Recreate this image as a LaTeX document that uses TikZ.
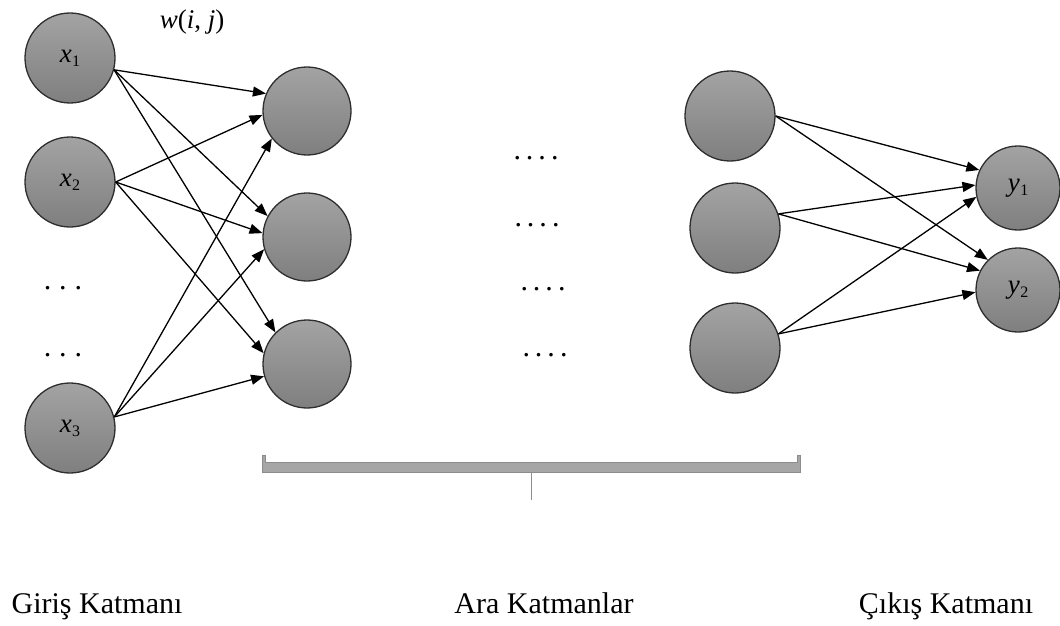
\documentclass[tikz,border=0pt]{standalone}
\usepackage{fontspec}
\setmainfont{Liberation Serif}
\usetikzlibrary{arrows.meta}
\definecolor{ctop}{HTML}{A3A3A3}
\definecolor{cbot}{HTML}{7F7F7F}
\definecolor{cedge}{HTML}{2E2E2E}
\definecolor{cbr}{HTML}{A6A6A6}
\definecolor{cbrd}{HTML}{8C8C8C}
\newcommand{\vname}[2]{\textit{#1}\kern0.5pt{\fontsize{16}{16}\selectfont\raisebox{-4pt}{#2}}}
\newcommand{\dotrow}[2]{.\foreach \k in {2,...,#1}{\kern#2.}}
\begin{document}
\begin{tikzpicture}[x=1pt,y=-1pt,
 neuron/.style={circle,draw=cedge,line width=1.3pt,top color=ctop,bottom color=cbot,minimum size=#1,inner sep=0pt,font=\fontsize{27}{30}\selectfont},
 neuron/.default=90pt,
 conn/.style={-{Triangle[length=13pt,width=10pt]},line width=1.3pt},
 lbl/.style={font=\fontsize{30}{36}\selectfont,anchor=base},
 dotsty/.style={font=\fontsize{30}{34}\selectfont,anchor=base}
]
\useasboundingbox (0,0) rectangle (1060,626);
% input layer
\node[neuron] (x1) at (70,58) {\vname{x}{1}};
\node[neuron] (x2) at (70,182) {\vname{x}{2}};
\node[neuron] (x3) at (70,428) {\vname{x}{3}};
% first hidden layer
\node[neuron=88pt] (h1) at (307,111) {};
\node[neuron=88pt] (h2) at (307,237) {};
\node[neuron=88pt] (h3) at (307,364) {};
% last hidden layer
\node[neuron] (a1) at (730,116) {};
\node[neuron] (a2) at (735,228) {};
\node[neuron] (a3) at (735,348) {};
% output layer
\node[neuron=84pt] (y1) at (1018,188) {\vname{y}{1}};
\node[neuron=84pt] (y2) at (1018,290) {\vname{y}{2}};
% connections input -> hidden
\draw[conn] (x1.-15) -- (h1.157);
\draw[conn] (x1.-15) -- (h2.152);
\draw[conn] (x1.-15) -- (h3.135);
\draw[conn] (x2.0) -- (h1.185);
\draw[conn] (x2.0) -- (h2.175);
\draw[conn] (x2.0) -- (h3.166);
\draw[conn] (x3.14) -- (h1.218);
\draw[conn] (x3.14) -- (h2.196);
\draw[conn] (x3.14) -- (h3.196);
% connections hidden -> output
\draw[conn] (a1.0) -- (y1.155);
\draw[conn] (a1.0) -- (y2.135);
\draw[conn] (a2.18) -- (y1.176);
\draw[conn] (a2.18) -- (y2.153);
\draw[conn] (a3.18) -- (y1.192);
\draw[conn] (a3.18) -- (y2.183);
% labels
\node[font=\fontsize{27}{30}\selectfont] (w) at (192,22) {\textit{w}(\textit{i}, \textit{j})};
\node[dotsty] (d1) at (63,289) {\dotrow{3}{8pt}};
\node[dotsty] (d2) at (63,356) {\dotrow{3}{8pt}};
\node[dotsty] (m1) at (536,159) {\dotrow{4}{5pt}};
\node[dotsty] (m2) at (537,226) {\dotrow{4}{5pt}};
\node[dotsty] (m3) at (543,290) {\dotrow{4}{5pt}};
\node[dotsty] (m4) at (545,356) {\dotrow{4}{5pt}};
% bracket
\coordinate (bl) at (262,455);
\coordinate (br) at (800,455);
\coordinate (bm) at (531,472);
\coordinate (bt) at (531,500);
\filldraw[fill=cbr,draw=cbrd,line width=0.8pt] (bl) -- (262,472) -- (800,472) -- (br) -- (797,455) -- (797,462) -- (265,462) -- (265,455) -- cycle;
\draw[cbrd,line width=1pt] (bm) -- (bt);
\node[lbl] (gl) at (97,613) {Giriş Katmanı};
\node[lbl] (al) at (544,613) {Ara Katmanlar};
\node[lbl] (cl) at (946,613) {Çıkış Katmanı};
\end{tikzpicture}
\end{document}
